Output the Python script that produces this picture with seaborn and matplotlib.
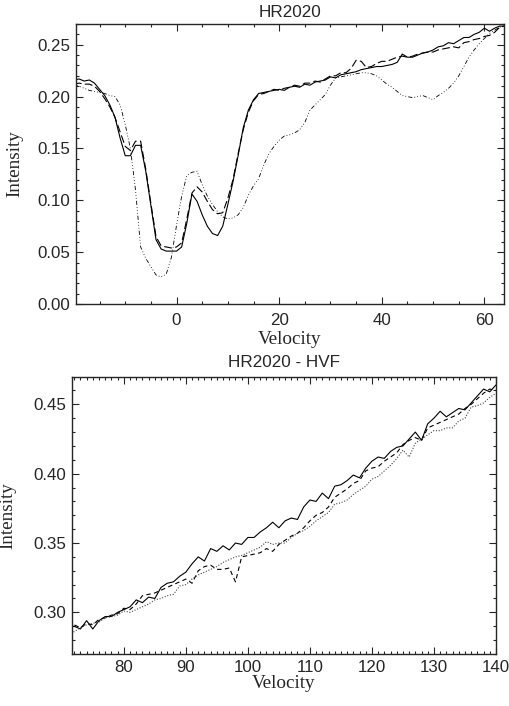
import numpy as np
import matplotlib
matplotlib.use("Agg")
import matplotlib.pyplot as plt
import seaborn as sns
from matplotlib.ticker import MultipleLocator

# ---- top panel: HR2020 ----
vel_top = list(range(-20, 65))
prof_solid = [
    0.216, 0.217, 0.215, 0.216, 0.213, 0.207, 0.201, 0.192, 0.180, 0.160,
    0.143, 0.143, 0.153, 0.153, 0.128, 0.095, 0.062, 0.053, 0.051, 0.051,
    0.051, 0.055, 0.078, 0.106, 0.099, 0.086, 0.075, 0.068, 0.066, 0.075,
    0.096, 0.118, 0.143, 0.170, 0.187, 0.197, 0.203, 0.204, 0.205, 0.206,
    0.207, 0.206, 0.209, 0.210, 0.209, 0.212, 0.211, 0.214, 0.215, 0.216,
    0.219, 0.218, 0.221, 0.222, 0.223, 0.224, 0.226, 0.227, 0.228, 0.229,
    0.229, 0.230, 0.231, 0.233, 0.241, 0.238, 0.238, 0.240, 0.242, 0.243,
    0.245, 0.248, 0.249, 0.252, 0.251, 0.254, 0.257, 0.257, 0.260, 0.262,
    0.266, 0.263, 0.266, 0.268, 0.268,
]
prof_dashed = [
    0.212, 0.213, 0.212, 0.212, 0.210, 0.205, 0.198, 0.190, 0.180, 0.166,
    0.152, 0.148, 0.157, 0.157, 0.130, 0.097, 0.065, 0.056, 0.055, 0.054,
    0.055, 0.059, 0.082, 0.107, 0.113, 0.108, 0.099, 0.091, 0.087, 0.088,
    0.102, 0.120, 0.145, 0.168, 0.185, 0.196, 0.202, 0.203, 0.205, 0.207,
    0.206, 0.208, 0.209, 0.211, 0.210, 0.213, 0.213, 0.215, 0.214, 0.217,
    0.220, 0.220, 0.223, 0.223, 0.227, 0.235, 0.234, 0.228, 0.229, 0.232,
    0.234, 0.234, 0.236, 0.238, 0.239, 0.238, 0.239, 0.241, 0.242, 0.243,
    0.243, 0.245, 0.246, 0.247, 0.248, 0.247, 0.252, 0.253, 0.255, 0.256,
    0.258, 0.259, 0.262, 0.267, 0.268,
]
prof_dashdot = [
    0.211, 0.210, 0.208, 0.206, 0.205, 0.204, 0.203, 0.201, 0.200, 0.192,
    0.173, 0.150, 0.110, 0.055, 0.044, 0.036, 0.028, 0.026, 0.029, 0.045,
    0.076, 0.104, 0.124, 0.127, 0.128, 0.115, 0.104, 0.096, 0.089, 0.084,
    0.082, 0.083, 0.086, 0.093, 0.105, 0.114, 0.121, 0.134, 0.145, 0.152,
    0.158, 0.162, 0.163, 0.165, 0.168, 0.175, 0.187, 0.192, 0.197, 0.202,
    0.211, 0.218, 0.219, 0.220, 0.221, 0.222, 0.223, 0.223, 0.222, 0.220,
    0.216, 0.212, 0.209, 0.205, 0.201, 0.200, 0.199, 0.200, 0.201, 0.199,
    0.197, 0.201, 0.204, 0.208, 0.213, 0.220, 0.229, 0.238, 0.245, 0.251,
    0.256, 0.261, 0.264, 0.267, 0.268,
]

# ---- bottom panel: HR2020 - HVF ----
vel_hvf = list(range(71, 141))
hvf_solid = [
    0.289, 0.290, 0.288, 0.294, 0.288, 0.294, 0.297, 0.297, 0.300, 0.302,
    0.304, 0.309, 0.307, 0.311, 0.310, 0.318, 0.321, 0.322, 0.326, 0.329,
    0.335, 0.340, 0.337, 0.346, 0.344, 0.348, 0.345, 0.350, 0.349, 0.354,
    0.354, 0.358, 0.361, 0.365, 0.361, 0.366, 0.368, 0.367, 0.376, 0.381,
    0.380, 0.386, 0.382, 0.391, 0.392, 0.395, 0.399, 0.397, 0.404, 0.409,
    0.412, 0.411, 0.416, 0.419, 0.420, 0.425, 0.430, 0.424, 0.436, 0.440,
    0.445, 0.441, 0.444, 0.447, 0.446, 0.451, 0.456, 0.461, 0.459, 0.464,
]
hvf_dashed = [
    0.288, 0.291, 0.289, 0.292, 0.291, 0.295, 0.296, 0.298, 0.299, 0.303,
    0.302, 0.306, 0.312, 0.313, 0.314, 0.316, 0.318, 0.320, 0.322, 0.324,
    0.321, 0.330, 0.333, 0.334, 0.331, 0.331, 0.332, 0.322, 0.340, 0.341,
    0.342, 0.343, 0.346, 0.344, 0.349, 0.352, 0.355, 0.357, 0.361, 0.366,
    0.370, 0.372, 0.376, 0.383, 0.386, 0.389, 0.393, 0.395, 0.402, 0.404,
    0.405, 0.409, 0.412, 0.415, 0.421, 0.424, 0.426, 0.424, 0.433, 0.435,
    0.437, 0.439, 0.441, 0.443, 0.447, 0.450, 0.454, 0.458, 0.461, 0.460,
]
hvf_dotted = [
    0.287, 0.286, 0.289, 0.291, 0.292, 0.293, 0.296, 0.297, 0.298, 0.301,
    0.300, 0.302, 0.304, 0.306, 0.309, 0.310, 0.312, 0.313, 0.319, 0.320,
    0.324, 0.327, 0.329, 0.331, 0.333, 0.336, 0.338, 0.340, 0.341, 0.343,
    0.345, 0.347, 0.351, 0.349, 0.350, 0.350, 0.354, 0.357, 0.359, 0.362,
    0.366, 0.369, 0.372, 0.378, 0.379, 0.381, 0.385, 0.388, 0.391, 0.396,
    0.398, 0.402, 0.406, 0.411, 0.417, 0.412, 0.422, 0.425, 0.428, 0.431,
    0.431, 0.433, 0.433, 0.438, 0.440, 0.448, 0.449, 0.451, 0.455, 0.458,
]

sns.set_style("ticks")
plt.rcParams["font.family"] = ["Liberation Sans", "DejaVu Sans"]

serif = "Liberation Serif"
fig = plt.figure(figsize=(5.1, 7.06), dpi=100)
ax1 = fig.add_axes([0.149, 0.5694, 0.839, 0.3966])
ax2 = fig.add_axes([0.1406, 0.0737, 0.8319, 0.3923])

lw = 0.8
sns.lineplot(x=vel_top, y=prof_solid, ax=ax1, color="k", lw=lw,
             estimator=None, sort=False)
sns.lineplot(x=vel_top, y=prof_dashed, ax=ax1, color="k", lw=lw,
             estimator=None, sort=False, linestyle=(0, (7, 3)))
sns.lineplot(x=vel_top, y=prof_dashdot, ax=ax1, color="k", lw=0.6,
             estimator=None, sort=False,
             linestyle=(0, (5, 2.5, 1, 2.5, 1, 2.5, 1, 2.5)))

sns.lineplot(x=vel_hvf, y=hvf_solid, ax=ax2, color="k", lw=lw,
             estimator=None, sort=False)
sns.lineplot(x=vel_hvf, y=hvf_dashed, ax=ax2, color="k", lw=lw,
             estimator=None, sort=False, linestyle=(0, (4, 3)))
sns.lineplot(x=vel_hvf, y=hvf_dotted, ax=ax2, color="#444444", lw=lw,
             estimator=None, sort=False, linestyle=(0, (1, 1.5)))

ax1.set_xlim(-19.6, 63.8)
ax1.set_ylim(0.0, 0.270)
ax1.xaxis.set_major_locator(MultipleLocator(20))
ax1.xaxis.set_minor_locator(MultipleLocator(5))
ax1.yaxis.set_major_locator(MultipleLocator(0.05))
ax1.yaxis.set_minor_locator(MultipleLocator(0.01))
ax1.yaxis.set_major_formatter(matplotlib.ticker.FormatStrFormatter("%.2f"))

ax2.set_xlim(71.6, 140.0)
ax2.set_ylim(0.270, 0.4697)
ax2.xaxis.set_major_locator(MultipleLocator(10))
ax2.xaxis.set_minor_locator(MultipleLocator(1))
ax2.yaxis.set_major_locator(MultipleLocator(0.05))
ax2.yaxis.set_minor_locator(MultipleLocator(0.01))
ax2.yaxis.set_major_formatter(matplotlib.ticker.FormatStrFormatter("%.2f"))

for ax, xpad in ((ax1, 6.5), (ax2, 4.5)):
    ax.tick_params(which="both", direction="in", top=True, right=True,
                   width=0.8, labelsize=12.2)
    ax.tick_params(axis="x", which="both", pad=xpad)
    ax.tick_params(axis="y", which="both", pad=4)
    ax.tick_params(which="major", length=5)
    ax.tick_params(which="minor", length=2.5)
    for sp in ax.spines.values():
        sp.set_linewidth(1.0)
        sp.set_visible(True)
    ax.set_xlabel("Velocity", fontsize=13.8, family=serif)
    ax.set_ylabel("Intensity", fontsize=13.8, family=serif)

ax1.set_title("HR2020", fontsize=12.3, pad=5)
ax2.set_title("HR2020 - HVF", fontsize=12.3, pad=7)
ax1.xaxis.set_label_coords(0.5, -0.095)
ax2.xaxis.set_label_coords(0.5, -0.075)
ax1.yaxis.set_label_coords(-0.124, 0.5)
ax2.yaxis.set_label_coords(-0.130, 0.5)

fig.savefig("out.png", dpi=100)
